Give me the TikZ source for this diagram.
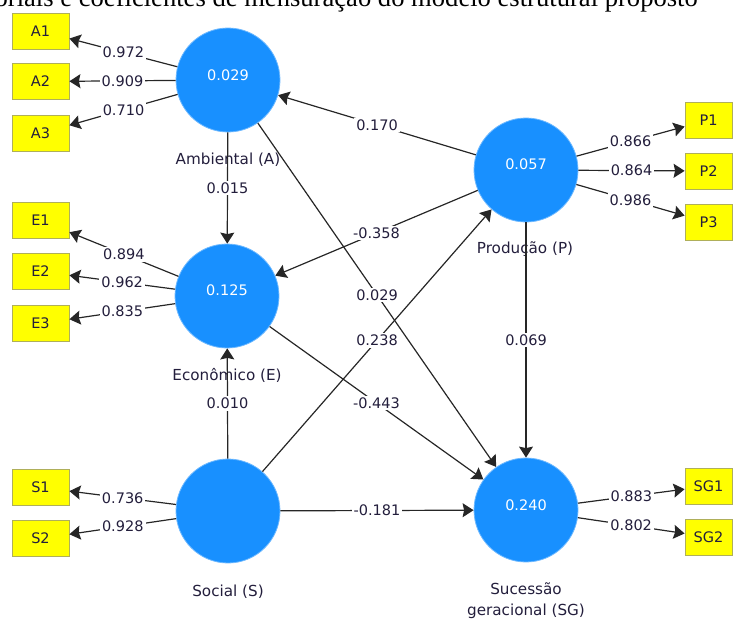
\documentclass[tikz,border=0pt]{standalone}
\usepackage{fontspec}
\setmainfont{DejaVu Sans}
\newfontfamily\titlefont{Liberation Serif}
\usetikzlibrary{arrows.meta}

\definecolor{lvblue}{RGB}{24,144,255}
\definecolor{lvedge}{RGB}{110,185,255}
\definecolor{indyellow}{RGB}{255,255,0}
\definecolor{indborder}{RGB}{175,175,90}
\definecolor{txt}{RGB}{35,30,60}

\begin{document}
\begin{tikzpicture}[x=1pt,y=-1pt,
  latent/.style={circle, fill=lvblue, draw=lvedge, line width=0.8pt, minimum size=104pt, inner sep=0pt},
  valtxt/.style={text=white, inner sep=0pt, font=\fontsize{14.5}{16}\selectfont},
  ind/.style={rectangle, fill=indyellow, draw=indborder, line width=0.8pt, minimum width=57pt, minimum height=36pt, inner sep=0pt, text=txt, font=\fontsize{14.5}{16}\selectfont},
  indr/.style={ind, minimum width=47pt},
  link/.style={draw=black!85, line width=1.2pt, -{Stealth[length=11pt,width=14pt,inset=1.5pt]}},
  coef/.style={fill=white, inner sep=2pt, text=txt, font=\fontsize{14.5}{16}\selectfont},
  cname/.style={text=txt, inner sep=0pt, align=center, font=\fontsize{15.2}{21}\selectfont}
]
\useasboundingbox (0,0) rectangle (733,619);

% title (cut off at top)
\node[anchor=base east, inner sep=0pt, font=\titlefont\fontsize{26.6}{30}\selectfont] (title) at (698,6.5) {fatoriais e coeficientes de mensuração do modelo estrutural proposto};

% latent variables
\node[latent] (A) at (228,80) {};
\node[latent] (E) at (227,296) {};
\node[latent] (P) at (526,170) {};
\node[latent] (S) at (228,511) {};
\node[latent] (SG) at (526,510) {};

\node[valtxt] (Av) at (228,75) {0.029};
\node[valtxt] (Ev) at (227,290) {0.125};
\node[valtxt] (Pv) at (526,164) {0.057};
\node[valtxt] (SGv) at (526,505) {0.240};

% indicators
\node[ind] (A1) at (40.5,31) {A1};
\node[ind] (A2) at (40.5,81.5) {A2};
\node[ind] (A3) at (40.5,133.5) {A3};
\node[ind] (E1) at (40.5,220.5) {E1};
\node[ind] (E2) at (40.5,271.5) {E2};
\node[ind] (E3) at (40.5,323.5) {E3};
\node[ind] (S1) at (40.5,487.5) {S1};
\node[ind] (S2) at (40.5,538.5) {S2};
\node[indr] (P1) at (708.5,120) {P1};
\node[indr] (P2) at (708.5,171) {P2};
\node[indr] (P3) at (708.5,222.5) {P3};
\node[indr] (SG1) at (708.5,486) {SG1};
\node[indr] (SG2) at (708.5,537) {SG2};

% construct names
\node[cname] (An) at (228,160) {Ambiental (A)};
\node[cname] (En) at (227,375) {Econômico (E)};
\node[cname] (Pn) at (525,249) {Produção (P)};
\node[cname] (Sn) at (228,592) {Social (S)};
\node[cname] (SGn) at (526,601) {Sucessão\\geracional (SG)};

% measurement model
\path[link] (A) -- node[coef] (cA1) {0.972} (A1);
\path[link] (A) -- node[coef] (cA2) {0.909} (A2);
\path[link] (A) -- node[coef] (cA3) {0.710} (A3);
\path[link] (E) -- node[coef] (cE1) {0.894} (E1);
\path[link] (E) -- node[coef] (cE2) {0.962} (E2);
\path[link] (E) -- node[coef] (cE3) {0.835} (E3);
\path[link] (S) -- node[coef] (cS1) {0.736} (S1);
\path[link] (S) -- node[coef] (cS2) {0.928} (S2);
\path[link] (P) -- node[coef] (cP1) {0.866} (P1);
\path[link] (P) -- node[coef] (cP2) {0.864} (P2);
\path[link] (P) -- node[coef] (cP3) {0.986} (P3);
\path[link] (SG) -- node[coef] (cSG1) {0.883} (SG1);
\path[link] (SG) -- node[coef] (cSG2) {0.802} (SG2);

% structural model
\path[link] (P) -- node[coef] (cPA) {0.170} (A);
\path[link] (P) -- node[coef] (cPE) {-0.358} (E);
\path[link] (A) -- node[coef] (cAE) {0.015} (E);
\path[link] (A) -- node[coef] (cASG) {0.029} (SG);
\path[link] (E) -- node[coef] (cESG) {-0.443} (SG);
\path[link] (S) -- node[coef] (cSE) {0.010} (E);
\path[link] (S) -- node[coef] (cSP) {0.238} (P);
\path[link] (P) -- node[coef] (cPSG) {0.069} (SG);
\path[link] (S) -- node[coef] (cSSG) {-0.181} (SG);
\end{tikzpicture}
\end{document}
